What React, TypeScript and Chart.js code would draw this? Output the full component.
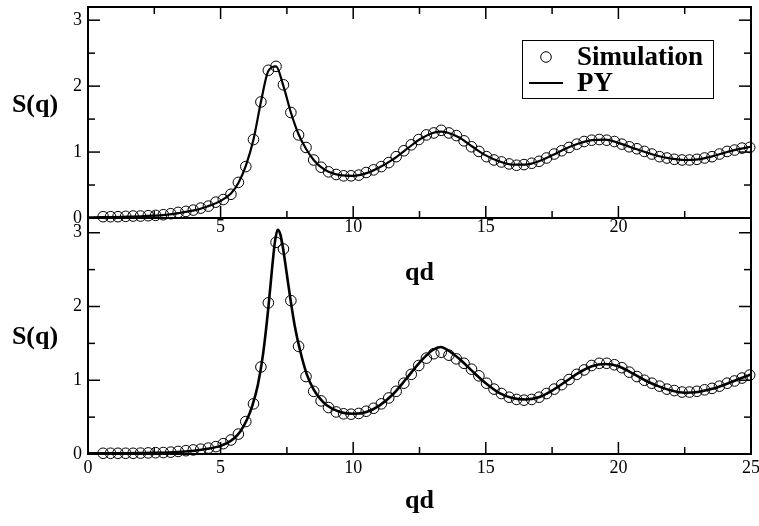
import React, { useEffect, useRef } from "react";
import { Chart, registerables } from "chart.js";

Chart.register(...registerables);

// ---------- data ----------
const qSim = [
  0.57, 0.85, 1.13, 1.42, 1.70, 1.98, 2.27, 2.55, 2.84, 3.12, 3.40, 3.69, 3.97, 4.25, 4.54, 4.82, 5.10,
  5.39, 5.67, 5.95, 6.24, 6.52, 6.80, 7.09, 7.37, 7.65, 7.94, 8.22, 8.51, 8.79, 9.07, 9.36, 9.64, 9.92,
  10.21, 10.49, 10.77, 11.06, 11.34, 11.62, 11.91, 12.19, 12.47, 12.76, 13.04, 13.32, 13.61, 13.89, 14.18,
  14.46, 14.74, 15.03, 15.31, 15.59, 15.88, 16.16, 16.44, 16.73, 17.01, 17.29, 17.58, 17.86, 18.14, 18.43,
  18.71, 18.99, 19.28, 19.56, 19.85, 20.13, 20.41, 20.70, 20.98, 21.26, 21.55, 21.83, 22.11, 22.40, 22.68,
  22.96, 23.25, 23.53, 23.81, 24.10, 24.38, 24.66, 24.95,
];

const sTopSim = [
  0.02, 0.02, 0.02, 0.025, 0.03, 0.03, 0.035, 0.04, 0.05, 0.065, 0.085, 0.10, 0.12, 0.15, 0.18, 0.24, 0.28,
  0.36, 0.54, 0.78, 1.19, 1.76, 2.24, 2.30, 2.02, 1.60,
  1.26, 1.07, 0.88, 0.77, 0.70, 0.66, 0.64, 0.64, 0.65, 0.69,
  0.73, 0.78, 0.84, 0.93, 1.02, 1.11, 1.19, 1.26, 1.29, 1.33,
  1.29, 1.25, 1.17, 1.08, 1.01, 0.93, 0.88, 0.85, 0.82, 0.80,
  0.81, 0.83, 0.86, 0.91, 0.97, 1.02, 1.07, 1.12, 1.16, 1.18,
  1.19, 1.18, 1.16, 1.12, 1.08, 1.05, 1.01, 0.97, 0.93, 0.91,
  0.89, 0.88, 0.88, 0.89, 0.91, 0.93, 0.97, 1.01, 1.03, 1.06, 1.07,
];

const sBottomSim = [
  0.01, 0.01, 0.01, 0.01, 0.01, 0.012, 0.015, 0.018, 0.02, 0.025,
  0.035, 0.045, 0.055, 0.065, 0.08, 0.10, 0.14,
  0.19, 0.27, 0.44, 0.68, 1.18, 2.05, 2.87, 2.78, 2.08,
  1.46, 1.05, 0.85, 0.72, 0.63, 0.57, 0.545, 0.54, 0.55, 0.58,
  0.62, 0.68, 0.76, 0.85, 0.96, 1.08, 1.20, 1.30, 1.36, 1.38,
  1.34, 1.29, 1.23, 1.15, 1.06, 0.96, 0.88, 0.82, 0.77, 0.74,
  0.73, 0.74, 0.77, 0.82, 0.88, 0.94, 1.01, 1.08, 1.14, 1.20,
  1.23, 1.23, 1.21, 1.17, 1.11, 1.05, 1.00, 0.96, 0.92, 0.88,
  0.86, 0.84, 0.84, 0.85, 0.87, 0.89, 0.92, 0.96, 0.99, 1.03, 1.07,
];

const qPyTop = [
  0, 0.5, 1, 1.5, 2, 2.5, 3, 3.5, 4, 4.5, 5,
  5.39, 5.67, 5.95, 6.24, 6.52, 6.8, 7.09, 7.37, 7.65, 7.94, 8.22, 8.51, 8.79, 9.07,
  9.5, 10, 10.5, 11, 11.5, 12, 12.5, 13, 13.3, 13.6,
  14, 14.5, 15, 15.5, 16, 16.5, 17, 17.5, 18, 18.5, 19, 19.5, 20, 20.5, 21, 21.5, 22, 22.5, 23, 23.5, 24, 24.5, 25,
];
const sPyTop = [
  0.01, 0.012, 0.015, 0.02, 0.025, 0.035, 0.05, 0.08, 0.115, 0.175, 0.26,
  0.37, 0.53, 0.79, 1.19, 1.76, 2.23, 2.30, 2.00, 1.60, 1.27, 1.05, 0.88, 0.77, 0.70,
  0.65, 0.64, 0.68, 0.77, 0.89, 1.04, 1.19, 1.29, 1.31, 1.29,
  1.22, 1.08, 0.95, 0.86, 0.81, 0.81, 0.86, 0.95, 1.05, 1.13, 1.18, 1.19, 1.14, 1.07, 1.00, 0.94, 0.90, 0.88, 0.89, 0.93, 0.99, 1.04, 1.08,
];

const qPyBottom = [
  0, 0.5, 1, 1.5, 2, 2.5, 3, 3.5, 4, 4.5, 5,
  5.25, 5.5, 5.75, 6, 6.2, 6.4, 6.6, 6.8, 6.95, 7.05, 7.15, 7.25, 7.35, 7.5, 7.65, 7.8, 8,
  8.25, 8.5, 8.75, 9, 9.5, 10, 10.5, 11, 11.5, 12, 12.5, 13, 13.3, 13.6,
  14, 14.5, 15, 15.5, 16, 16.5, 17, 17.5, 18, 18.5, 19, 19.5, 20, 20.5, 21, 21.5, 22, 22.5, 23, 23.5, 24, 24.5, 25,
];
const sPyBottom = [
  0.01, 0.01, 0.01, 0.01, 0.012, 0.015, 0.02, 0.03, 0.045, 0.07, 0.11,
  0.15, 0.21, 0.31, 0.47, 0.66, 0.93, 1.35, 1.98, 2.55, 2.88, 3.04, 2.98, 2.80, 2.43, 2.06, 1.73, 1.40,
  1.08, 0.88, 0.75, 0.66, 0.57, 0.545, 0.57, 0.66, 0.81, 1.02, 1.24, 1.41, 1.45, 1.40,
  1.29, 1.12, 0.96, 0.83, 0.76, 0.74, 0.77, 0.86, 0.98, 1.10, 1.19, 1.22, 1.19, 1.10, 1.00, 0.92, 0.86, 0.83, 0.84, 0.88, 0.94, 1.01, 1.08,
];

const xTickLabelsTop = [5, 10, 15, 20];
const xTickLabelsBottom = [0, 5, 10, 15, 20, 25];
const xMajorMarks = [5, 10, 15, 20];
const xMinorMarks = [2.5, 7.5, 12.5, 17.5, 22.5];
const yTickLabels = [0, 1, 2, 3];
const yMinorMarks = [0.5, 1.5, 2.5];
const seriesLabels = ["Simulation", "PY"];
const xTitle = "qd";
const yTitle = "S(q)";

// ---------- styling ----------
const SERIF = '"Liberation Serif", "Times New Roman", Times, serif';

const frameTicks = {
  id: "frameTicks",
  afterDatasetsDraw(chart: any, _args: any, o: any) {
    const { ctx, chartArea: a, scales } = chart;
    const xs = scales.x;
    const ys = scales.y;
    ctx.save();
    ctx.strokeStyle = "#000";
    const seg = (x1: number, y1: number, x2: number, y2: number) => {
      ctx.beginPath();
      ctx.moveTo(x1, y1);
      ctx.lineTo(x2, y2);
      ctx.stroke();
    };
    ctx.lineWidth = 1.5;
    const xm: [number, number][] = [
      ...o.xMajor.map((v: number) => [v, o.major]),
      ...o.xMinor.map((v: number) => [v, o.minor]),
    ];
    const ym: [number, number][] = [
      ...o.yMajor.map((v: number) => [v, o.major]),
      ...o.yMinor.map((v: number) => [v, o.minor]),
    ];
    for (const [v, len] of xm) {
      const px = xs.getPixelForValue(v);
      seg(px, a.bottom, px, a.bottom - len);
      if (o.top) seg(px, a.top, px, a.top + len);
    }
    for (const [v, len] of ym) {
      const py = ys.getPixelForValue(v);
      seg(a.left, py, a.left + len, py);
      seg(a.right, py, a.right - len, py);
    }
    ctx.lineWidth = 2;
    seg(a.left, a.top - (o.top ? 1 : 0), a.left, a.bottom + 1);
    seg(a.right, a.top - (o.top ? 1 : 0), a.right, a.bottom + 1);
    seg(a.left - 1, a.bottom, a.right + 1, a.bottom);
    if (o.top) seg(a.left - 1, a.top, a.right + 1, a.top);
    ctx.restore();
  },
};

const sideTitle = {
  id: "sideTitle",
  afterDraw(chart: any, _args: any, o: any) {
    const ctx = chart.ctx;
    ctx.save();
    ctx.fillStyle = "#000";
    ctx.font = `bold ${o.size}px ${SERIF}`;
    ctx.textAlign = "center";
    ctx.textBaseline = "middle";
    ctx.fillText(o.text, o.x, o.y);
    ctx.restore();
  },
};

const boxLegend = {
  id: "boxLegend",
  afterDraw(chart: any, _args: any, o: any) {
    if (!o || !o.show) return;
    const ctx = chart.ctx;
    const ds = chart.data.datasets;
    ctx.save();
    ctx.strokeStyle = "#000";
    ctx.lineWidth = 1;
    ctx.strokeRect(o.x + 0.5, o.y + 0.5, o.w, o.h);
    ctx.fillStyle = "#000";
    ctx.font = `bold ${o.size}px ${SERIF}`;
    ctx.textAlign = "left";
    ctx.textBaseline = "alphabetic";
    ds.forEach((d: any, i: number) => {
      const row = o.rows[i];
      if (d.showLine === false) {
        ctx.lineWidth = 1;
        ctx.beginPath();
        ctx.arc((o.symX1 + o.symX2) / 2, row.sym, d.pointRadius, 0, Math.PI * 2);
        ctx.stroke();
      } else {
        ctx.lineWidth = 2;
        ctx.beginPath();
        ctx.moveTo(o.symX1, row.sym);
        ctx.lineTo(o.symX2, row.sym);
        ctx.stroke();
      }
      ctx.fillText(d.label, o.textX, row.base);
    });
    ctx.restore();
  },
};

type PanelOpts = {
  sim: number[];
  pyQ: number[];
  pyS: number[];
  xLabels: number[];
  padTop: number;
  xAxisHeight: number;
  xTickPad: number;
  xTitlePadBottom: number;
  lineWidth: number;
  topFrame: boolean;
  legend: boolean;
  yTitleY: number;
};

function makeConfig(p: PanelOpts): any {
  return {
    type: "line",
    data: {
      datasets: [
        {
          label: seriesLabels[0],
          data: qSim.map((q, i) => ({ x: q, y: p.sim[i] })),
          showLine: false,
          pointRadius: 5.3,
          pointBorderWidth: 1,
          pointBorderColor: "#000",
          pointBackgroundColor: "rgba(0,0,0,0)",
          pointStyle: "circle",
          clip: false,
        },
        {
          label: seriesLabels[1],
          data: p.pyQ.map((q, i) => ({ x: q, y: p.pyS[i] })),
          borderColor: "#000",
          borderWidth: p.lineWidth,
          pointRadius: 0,
          fill: false,
          cubicInterpolationMode: "monotone",
          clip: false,
        },
      ],
    },
    options: {
      responsive: false,
      animation: false,
      devicePixelRatio: 1,
      events: [],
      layout: { padding: { left: 0, right: 8, top: p.padTop, bottom: 0 } },
      plugins: {
        legend: { display: false },
        tooltip: { enabled: false },
        frameTicks: {
          xMajor: xMajorMarks,
          xMinor: xMinorMarks,
          yMajor: yTickLabels,
          yMinor: yMinorMarks,
          major: 12,
          minor: 7,
          top: p.topFrame,
        },
        sideTitle: { text: yTitle, x: 35, y: p.yTitleY, size: 26 },
        boxLegend: {
          show: p.legend,
          x: 522,
          y: 40,
          w: 191,
          h: 58,
          size: 27,
          symX1: 529,
          symX2: 563,
          textX: 577,
          rows: [
            { sym: 57, base: 65 },
            { sym: 83, base: 91 },
          ],
        },
      },
      scales: {
        x: {
          type: "linear",
          min: 0,
          max: 25,
          grid: { display: false, drawTicks: false, tickLength: 0 },
          border: { display: false },
          ticks: {
            color: "#000",
            font: { family: SERIF, size: 18, lineHeight: 1 },
            padding: p.xTickPad,
            maxRotation: 0,
            autoSkip: false,
          },
          afterBuildTicks: (s: any) => {
            s.ticks = p.xLabels.map((v) => ({ value: v }));
          },
          afterFit: (s: any) => {
            s.height = p.xAxisHeight;
            s.paddingLeft = 0;
            s.paddingRight = 0;
          },
          title: {
            display: true,
            text: xTitle,
            color: "#000",
            font: { family: SERIF, size: 26, weight: "bold", lineHeight: 1.2 },
            padding: { top: 0, bottom: p.xTitlePadBottom },
          },
        },
        y: {
          type: "linear",
          min: 0,
          max: 3.2,
          grid: { display: false, drawTicks: false, tickLength: 0 },
          border: { display: false },
          ticks: {
            color: "#000",
            font: { family: SERIF, size: 18, lineHeight: 1 },
            padding: 6,
          },
          afterBuildTicks: (s: any) => {
            s.ticks = yTickLabels.map((v) => ({ value: v }));
          },
          afterFit: (s: any) => {
            s.width = 88;
            s.paddingTop = 0;
            s.paddingBottom = 0;
          },
        },
      },
    },
    plugins: [frameTicks, sideTitle, boxLegend],
  };
}

export default function App() {
  const topRef = useRef<HTMLCanvasElement>(null);
  const bottomRef = useRef<HTMLCanvasElement>(null);

  useEffect(() => {
    const bottom = new Chart(
      bottomRef.current!,
      makeConfig({
        sim: sBottomSim,
        pyQ: qPyBottom,
        pyS: sPyBottom,
        xLabels: xTickLabelsBottom,
        padTop: 218,
        xAxisHeight: 72,
        xTickPad: 5,
        xTitlePadBottom: 9,
        lineWidth: 2.6,
        topFrame: false,
        legend: false,
        yTitleY: 337,
      })
    );
    const top = new Chart(
      topRef.current!,
      makeConfig({
        sim: sTopSim,
        pyQ: qPyTop,
        pyS: sPyTop,
        xLabels: xTickLabelsTop,
        padTop: 7,
        xAxisHeight: 82,
        xTickPad: 0,
        xTitlePadBottom: 11,
        lineWidth: 2.2,
        topFrame: true,
        legend: true,
        yTitleY: 105,
      })
    );
    return () => {
      top.destroy();
      bottom.destroy();
    };
  }, []);

  return (
    <div
      style={{
        position: "fixed",
        left: 0,
        top: 0,
        width: 759,
        height: 526,
        background: "#fff",
        overflow: "hidden",
      }}
    >
      <canvas
        ref={bottomRef}
        width={759}
        height={526}
        style={{ position: "absolute", left: 0, top: 0, display: "block" }}
      />
      <canvas
        ref={topRef}
        width={759}
        height={300}
        style={{ position: "absolute", left: 0, top: 0, display: "block", pointerEvents: "none" }}
      />
    </div>
  );
}
